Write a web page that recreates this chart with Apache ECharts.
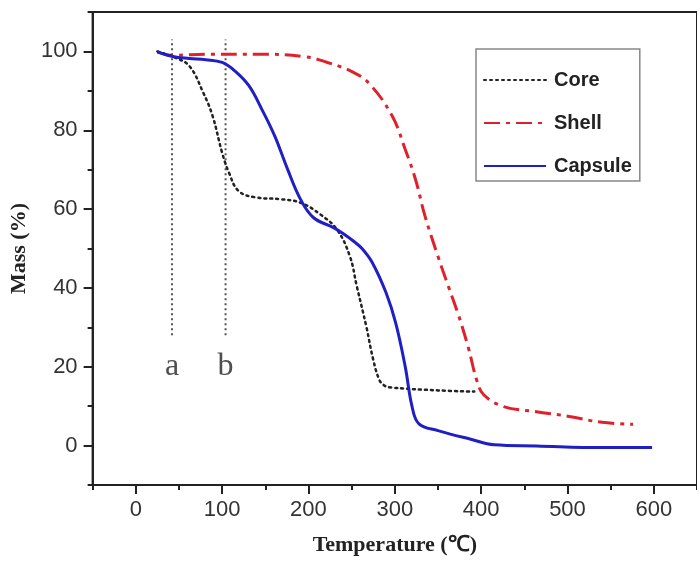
<!DOCTYPE html>
<html>
<head>
<meta charset="utf-8">
<script src="https://cdn.jsdelivr.net/npm/echarts@6/dist/echarts.min.js"></script>
<style>
  html, body { margin: 0; padding: 0; background: #fff; }
  #chart { width: 697px; height: 563px; }
</style>
</head>
<body>
<div id="chart"></div>
<script>
// TGA curves: temperature (°C) vs mass (%)
var coreTemp = [25, 35, 45, 62, 78, 89, 100, 108, 119, 138, 168, 191, 214, 233, 248, 256, 267, 275, 282, 287, 293, 350, 392]
var coreMass = [100, 99.3, 98.5, 96.3, 89.6, 83.6, 74.3, 69.2, 64.6, 63, 62.5, 61.6, 58.6, 54.8, 48, 40.4, 30.2, 21.8, 16.7, 15.4, 14.8, 14, 13.7]

var shellTemp = [25, 43, 81, 138, 195, 222, 252, 271, 297, 312, 324, 335, 350, 362, 373, 385, 395, 403, 426, 464, 502, 540, 576]
var shellMass = [99.9, 99, 99.3, 99.3, 98.7, 97.2, 94.7, 91.7, 83.6, 75.2, 67.5, 58.2, 48, 40.4, 33.6, 25, 16.5, 12.9, 9.9, 8.6, 7.4, 5.9, 5.4]

var capsuleTemp = [25, 43, 62, 81, 100, 115, 131, 146, 161, 176, 191, 206, 229, 240, 252, 262, 274, 290, 301, 312, 320, 328, 350, 388, 415, 464, 540, 598]
var capsuleMass = [99.9, 98.7, 98.2, 97.9, 97.2, 95, 91.3, 85.3, 78.5, 70, 62.4, 57.8, 55.3, 53.8, 51.9, 50, 46.4, 38.7, 31.1, 20.1, 9.9, 5.5, 3.8, 1.6, 0.2, -0.1, -0.5, -0.5]

// vertical guide lines a and b
var markerTemps = [42, 104]
var markerLabels = ['a', 'b']
var markerRange = [28, 103]
var markerLabelMass = 20

var xTicks = [0, 100, 200, 300, 400, 500, 600]
var yTicks = [0, 20, 40, 60, 80, 100]

function pairs(xs, ys) {
  return xs.map(function (x, i) { return [x, ys[i]] })
}

var chart = echarts.init(document.getElementById('chart'))

var serif = 'Liberation Serif'
var sans = 'Liberation Sans'

var series = [
  {
    name: 'Core',
    type: 'line',
    data: pairs(coreTemp, coreMass),
    symbol: 'none',
    smooth: 0.4,
    lineStyle: { color: '#222', width: 2.5, type: [2, 4], cap: 'round' },
    itemStyle: { color: '#222' },
    z: 3
  },
  {
    name: 'Shell',
    type: 'line',
    data: pairs(shellTemp, shellMass),
    symbol: 'none',
    smooth: 0.4,
    lineStyle: { color: '#e0202a', width: 3, type: [16, 6, 4, 6] },
    itemStyle: { color: '#e0202a' },
    z: 2
  },
  {
    name: 'Capsule',
    type: 'line',
    data: pairs(capsuleTemp, capsuleMass),
    symbol: 'none',
    smooth: 0.4,
    lineStyle: { color: '#1f1fc4', width: 3 },
    itemStyle: { color: '#1f1fc4' },
    z: 4
  }
]

markerTemps.forEach(function (t, i) {
  series.push({
    name: 'marker-' + markerLabels[i],
    type: 'line',
    data: [[t, markerRange[0]], [t, markerRange[1]]],
    symbol: 'none',
    lineStyle: { color: '#555', width: 2, type: [2, 3] },
    z: 1
  })
})

series.push({
  name: 'marker-labels',
  type: 'scatter',
  symbolSize: 1,
  itemStyle: { color: 'transparent' },
  data: markerTemps.map(function (t, i) {
    return { value: [t, markerLabelMass], name: markerLabels[i] }
  }),
  label: {
    show: true,
    position: 'inside',
    formatter: '{b}',
    fontFamily: serif,
    fontSize: 32,
    color: '#222'
  }
})

chart.setOption({
  backgroundColor: '#fff',
  animation: false,
  grid: {
    left: 88,
    top: 12,
    width: 616,
    height: 473,
    show: true,
    borderColor: '#222',
    borderWidth: 2
  },
  legend: {
    data: ['Core', 'Shell', 'Capsule'],
    orient: 'vertical',
    left: 476,
    top: 49,
    itemWidth: 62,
    itemHeight: 20,
    itemGap: 23,
    padding: [21, 8, 5, 7],
    borderColor: '#888',
    borderWidth: 1.5,
    itemStyle: { opacity: 0 },
    textStyle: {
      fontFamily: sans,
      fontSize: 20,
      fontWeight: 'bold',
      color: '#222',
      padding: [0, 0, 0, 3]
    }
  },
  xAxis: [
    {
      type: 'value',
      min: -50,
      max: 650,
      interval: 50,
      axisLine: { onZero: false, lineStyle: { color: '#222', width: 2 } },
      axisTick: { inside: false, length: 5, lineStyle: { color: '#222', width: 2 } },
      axisLabel: { show: false },
      splitLine: { show: false }
    },
    {
      type: 'value',
      min: -50,
      max: 650,
      position: 'bottom',
      axisLine: { show: false, onZero: false },
      axisTick: { customValues: xTicks, length: 9, lineStyle: { color: '#222', width: 2 } },
      axisLabel: {
        customValues: xTicks,
        margin: 14,
        fontFamily: sans,
        fontSize: 22,
        color: '#333'
      },
      splitLine: { show: false },
      name: 'Temperature (℃)',
      nameLocation: 'middle',
      nameGap: 49,
      nameTextStyle: { fontFamily: serif, fontSize: 22, fontWeight: 'bold', color: '#222' }
    }
  ],
  yAxis: [
    {
      type: 'value',
      min: -10,
      max: 110,
      interval: 10,
      axisLine: { show: true, onZero: false, lineStyle: { color: '#222', width: 2 } },
      axisTick: { show: true, inside: false, length: 5, lineStyle: { color: '#222', width: 2 } },
      axisLabel: { show: false },
      splitLine: { show: false }
    },
    {
      type: 'value',
      min: -10,
      max: 110,
      position: 'left',
      axisLine: { show: false, onZero: false },
      axisTick: { show: true, customValues: yTicks, length: 9, lineStyle: { color: '#222', width: 2 } },
      axisLabel: {
        customValues: yTicks,
        margin: 15,
        fontFamily: sans,
        fontSize: 22,
        color: '#333'
      },
      splitLine: { show: false },
      name: 'Mass (%)',
      nameLocation: 'middle',
      nameGap: 50,
      nameTextStyle: { fontFamily: serif, fontSize: 22, fontWeight: 'bold', color: '#222' }
    }
  ],
  series: series
})
</script>
</body>
</html>
